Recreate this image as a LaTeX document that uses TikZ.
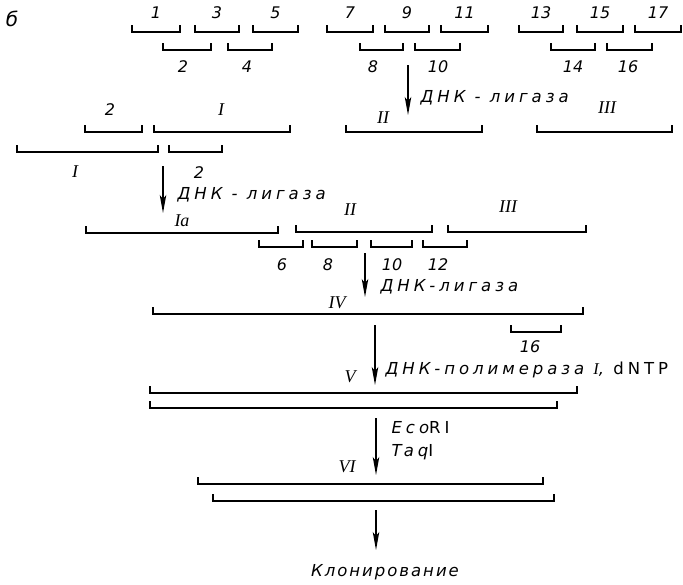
\documentclass[tikz,border=0pt]{standalone}
\usepackage{fontspec}
\setmainfont{DejaVu Sans}
\newfontfamily\spaced[LetterSpace=24]{DejaVu Sans}
\newfontfamily\spacedlow[LetterSpace=12]{DejaVu Sans}
\newfontfamily\numeral{Liberation Serif}
\usetikzlibrary{arrows.meta}
\tikzset{
  every picture/.style={line width=1.2pt},
  frag/.style={draw, line width=1.2pt},
  num/.style={font=\itshape\fontsize{16}{16}\selectfont, inner sep=0pt},
  roman/.style={font=\numeral\itshape\fontsize{18}{18}\selectfont, inner sep=0pt},
  enz/.style={font=\spaced\itshape\fontsize{16.5}{16.5}\selectfont, anchor=west, inner sep=0pt},
  result/.style={font=\spacedlow\itshape\fontsize{16.5}{16.5}\selectfont, inner sep=0pt},
  arrow/.style={-{Stealth[length=18pt, width=6.5pt, inset=4pt]}, line width=1.2pt},
}
% one fragment: a strand with its two ends ticked upwards
\newcommand{\frag}[3]{\draw[frag] (#1,#3-7) |- (#2,#3) -- (#2,#3-7);}

\begin{document}
\begin{tikzpicture}[x=1pt, y=-1pt]
  \useasboundingbox (0,0) rectangle (683,584);
  \node[font=\itshape\fontsize{20}{20}\selectfont, inner sep=0pt] (b) at (12,19) {б};

  % oligonucleotides 1 ... 17
  \foreach \p/\q/\n in {132/180/1, 195/239/3, 253/298/5, 327/373/7, 385/429/9, 441/488/11, 519/563/13, 577/623/15, 635/681/17} {
    \frag{\p}{\q}{32}
    \node[num] (o\n) at ({(\p+\q)/2},13) {\n};
  }
  \foreach \p/\q/\lx/\n in {163/211/183/2, 228/272/247/4, 360/403/373/8, 415/460/438/10, 551/595/573/14, 607/652/628/16} {
    \frag{\p}{\q}{50}
    \node[num] (o\n) at (\lx,67) {\n};
  }
  \coordinate (lig1a) at (408,65);
  \coordinate (lig1b) at (408,115);
  \draw[arrow] (lig1a) -- (lig1b);
  \node[enz] (e1) at (420,98) {ДНК - лигаза};

  % blocks II and III
  \frag{346}{482}{132}
  \node[roman] (n2) at (383,118) {II};
  \frag{537}{672}{132}
  \node[roman] (n3) at (607,108) {III};

  % block I with 2
  \frag{85}{142}{132}
  \node[num] (p2) at (110,110) {2};
  \frag{154}{290}{132}
  \node[roman] (p1) at (221,110) {I};
  \frag{17}{158}{152}
  \node[roman] (q1) at (75,172) {I};
  \frag{169}{222}{152}
  \node[num] (q2) at (199,173) {2};
  \coordinate (lig2a) at (163,166);
  \coordinate (lig2b) at (163,213);
  \draw[arrow] (lig2a) -- (lig2b);
  \node[enz] (e2) at (177,195) {ДНК - лигаза};

  % Ia, II, III with linkers
  \frag{86}{278}{233}
  \node[roman] (s1) at (182,221) {Ia};
  \frag{296}{432}{232}
  \node[roman] (s2) at (350,210) {II};
  \frag{448}{586}{232}
  \node[roman] (s3) at (508,207) {III};
  \foreach \p/\q/\lx/\n in {259/303/282/6, 312/357/328/8, 371/412/392/10, 423/467/438/12} {
    \frag{\p}{\q}{247}
    \node[num] (k\n) at (\lx,265) {\n};
  }
  \coordinate (lig3a) at (365,253);
  \coordinate (lig3b) at (365,297);
  \draw[arrow] (lig3a) -- (lig3b);
  \node[enz] (e3) at (380,287) {ДНК-лигаза};

  % IV
  \frag{153}{583}{314}
  \node[roman] (s4) at (337,303) {IV};
  \frag{511}{561}{332}
  \node[num] (k16) at (530,347) {16};
  \coordinate (pola) at (375,325);
  \coordinate (polb) at (375,385);
  \draw[arrow] (pola) -- (polb);
  \node[enz] (e4) at (385,370) {ДНК-полимераза {\numeral I}, {\upshape dNTP}};

  % V
  \node[roman] (s5) at (350,377) {V};
  \frag{150}{577}{393}
  \frag{150}{557}{408}
  \coordinate (cuta) at (376,418);
  \coordinate (cutb) at (376,475);
  \draw[arrow] (cuta) -- (cutb);
  \node[enz] (e5) at (391,428) {Eco{\upshape RI}};
  \node[enz] (e6) at (391,452) {Taq{\upshape I}};

  % VI
  \node[roman] (s6) at (347,467) {VI};
  \frag{198}{543}{484}
  \frag{213}{554}{501}
  \coordinate (clona) at (376,510);
  \coordinate (clonb) at (376,550);
  \draw[arrow] (clona) -- (clonb);
  \node[result] (e7) at (385,572) {Клонирование};
\end{tikzpicture}
\end{document}
